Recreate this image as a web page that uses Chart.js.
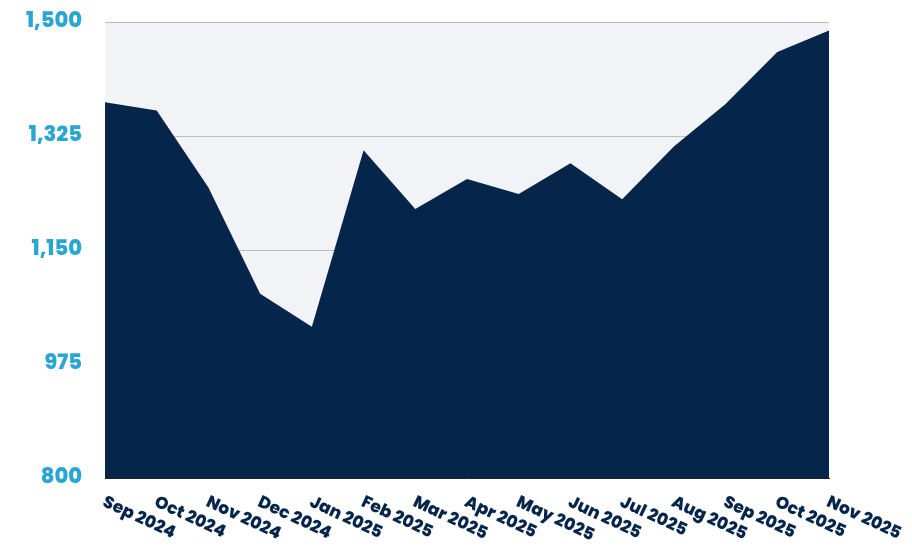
<!DOCTYPE html>
<html lang="en">
<head>
    <meta charset="UTF-8">
    <title>Monthly trend</title>
    <script src="https://cdn.jsdelivr.net/npm/chart.js"></script>
    <style>
        body {
            margin: 0;
            padding: 0;
            background: #ffffff;
        }
        #wrap {
            width: 912px;
            height: 560px;
        }
    </style>
</head>
<body>
    <div id="wrap">
        <canvas id="chartTrend" width="912" height="560"></canvas>
    </div>

    <script>
        const months = ['Sep 2024', 'Oct 2024', 'Nov 2024', 'Dec 2024', 'Jan 2025', 'Feb 2025', 'Mar 2025',
            'Apr 2025', 'May 2025', 'Jun 2025', 'Jul 2025', 'Aug 2025', 'Sep 2025', 'Oct 2025', 'Nov 2025'];
        const values = [1377, 1364, 1246, 1083, 1032, 1303, 1213, 1259, 1236, 1283, 1228, 1309, 1374, 1454, 1487];
        const yTicks = [800, 975, 1150, 1325, 1500];

        const navy = '#05254b';
        const fontFamily = "Poppins, Inter, 'Open Sans', sans-serif";

        // light grey plot background behind everything
        const plotBackground = {
            id: 'plotBackground',
            beforeDraw(chart) {
                const a = chart.chartArea;
                const ctx = chart.ctx;
                ctx.save();
                ctx.fillStyle = '#f2f3f6';
                ctx.fillRect(a.left, a.top, a.right - a.left, a.bottom - a.top);
                ctx.restore();
            }
        };

        // x labels start at the tick and slope down to the right
        const slantedLabels = {
            id: 'slantedLabels',
            afterDraw(chart) {
                const xs = chart.scales.x;
                const ctx = chart.ctx;
                ctx.save();
                ctx.fillStyle = navy;
                ctx.font = '800 17px ' + fontFamily;
                ctx.textAlign = 'left';
                ctx.textBaseline = 'top';
                months.forEach(function(m, i) {
                    const x = xs.getPixelForTick(i);
                    ctx.save();
                    ctx.translate(x + 2, chart.chartArea.bottom + 16);
                    ctx.rotate(25 * Math.PI / 180);
                    ctx.fillText(m, 0, 0);
                    ctx.restore();
                });
                ctx.restore();
            }
        };

        new Chart(document.getElementById('chartTrend'), {
            type: 'line',
            data: {
                labels: months,
                datasets: [{
                    data: values,
                    fill: 'start',
                    backgroundColor: navy,
                    borderColor: navy,
                    borderWidth: 0,
                    pointRadius: 0,
                    tension: 0
                }]
            },
            options: {
                responsive: false,
                animation: false,
                layout: {
                    padding: { top: 22, right: 83, bottom: 82, left: 0 }
                },
                plugins: {
                    legend: { display: false },
                    tooltip: { enabled: false }
                },
                scales: {
                    x: {
                        offset: false,
                        afterFit(scale) {
                            scale.height = 0;
                            scale.paddingLeft = 0;
                            scale.paddingRight = 0;
                        },
                        grid: { display: false },
                        border: { display: true, color: '#222222', width: 1, z: 1 },
                        ticks: { display: false }
                    },
                    y: {
                        min: yTicks[0],
                        max: yTicks[yTicks.length - 1],
                        afterFit(scale) {
                            scale.width = 105;
                            scale.paddingTop = 0;
                            scale.paddingBottom = 0;
                        },
                        afterBuildTicks(scale) {
                            scale.ticks = yTicks.map(v => ({ value: v }));
                        },
                        grid: { color: '#b9bcc1', drawTicks: false },
                        border: { display: false },
                        ticks: {
                            padding: 23,
                            color: '#2aa6d2',
                            font: { family: fontFamily, size: 21, weight: '800' },
                            callback: v => v.toLocaleString('en-US')
                        }
                    }
                }
            },
            plugins: [plotBackground, slantedLabels]
        });
    </script>
</body>
</html>
